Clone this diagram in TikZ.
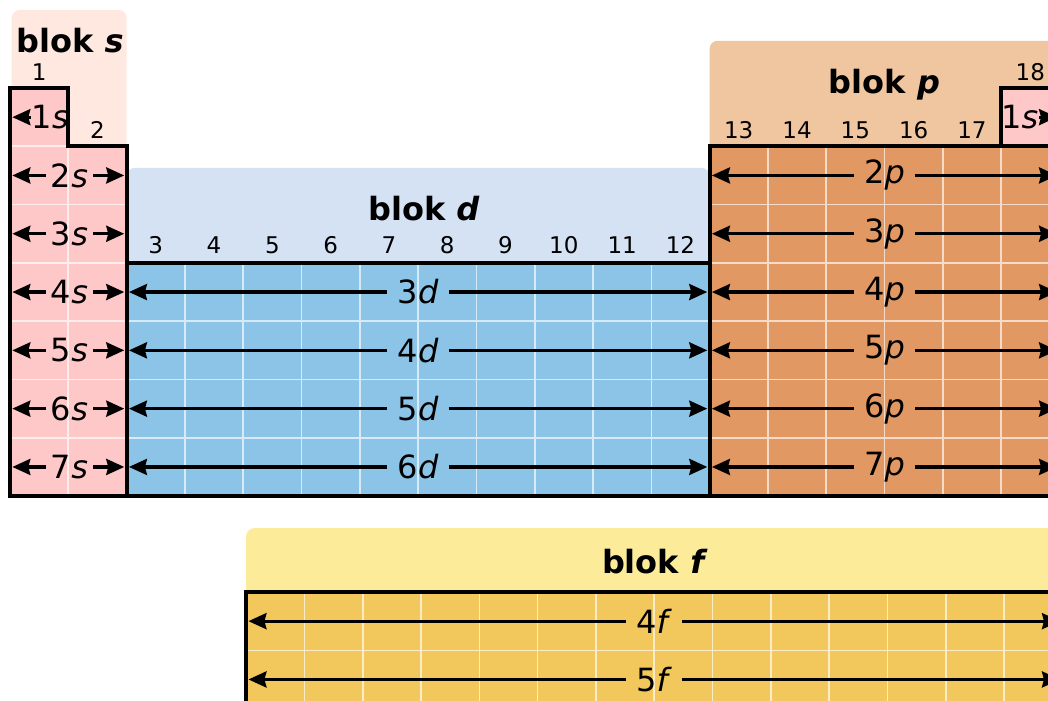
\documentclass[tikz,border=0pt]{standalone}
\usepackage{fontspec}
\setmainfont{DejaVu Sans}
\usetikzlibrary{arrows.meta}

\definecolor{sfill}{RGB}{255,200,200}
\definecolor{shead}{RGB}{255,232,224}
\definecolor{dfill}{RGB}{140,196,232}
\definecolor{dhead}{RGB}{212,226,244}
\definecolor{pfill}{RGB}{226,152,98}
\definecolor{phead}{RGB}{240,198,160}
\definecolor{ffill}{RGB}{242,200,92}
\definecolor{fhead}{RGB}{252,236,154}

\tikzset{
  header/.style={fill=#1, rounded corners=8pt},
  gridline/.style={draw=white!65!#1, line width=1.6pt},
  blockline/.style={line width=4pt, line join=miter},
  blocktitle/.style={font=\fontsize{32}{32}\selectfont\bfseries},
  groupnum/.style={font=\fontsize{23}{23}\selectfont},
  orbit/.style={font=\fontsize{32}{32}\selectfont, inner xsep=10pt, inner ysep=0pt},
  orbarrow/.style={-{Stealth[length=18pt,width=16pt,inset=2pt]}, line width=3.2pt}
}

\begin{document}
\begin{tikzpicture}[x=58.3pt, y=-58.3pt]
    \useasboundingbox (-0.1715,-1.5094) rectangle (17.8045,10.5146);
    \clip (-0.1715,-1.5094) rectangle (17.8045,10.5146);

    \fill[header=shead] (0.03,-1.34) rectangle (2,1.5);
    \fill[header=dhead] (2,1.37) rectangle (12,3.5);
    \fill[header=phead] (12,-0.81) rectangle (18.6,1.5);
    \fill[header=fhead] (4.05,7.55) rectangle (18.6,9);

    \fill[sfill] (0,0) -- (1,0) -- (1,1) -- (2,1) -- (2,7) -- (0,7) -- cycle;
    \fill[dfill] (2,3) rectangle (12,7);
    \fill[pfill] (12,1) rectangle (18,7);
    \fill[sfill] (17,0) rectangle (18,1);
    \fill[ffill] (4.05,8.645) rectangle (18.05,10.645);

    \draw[gridline=sfill] (0,1) -- (1,1) -- (1,7);
    \foreach \r in {2,...,6} \draw[gridline=sfill] (0,\r) -- (2,\r);
    \foreach \c in {3,...,11} \draw[gridline=dfill] (\c,3) -- (\c,7);
    \foreach \r in {4,5,6} \draw[gridline=dfill] (2,\r) -- (12,\r);
    \foreach \c in {13,...,17} \draw[gridline=pfill] (\c,1) -- (\c,7);
    \foreach \r in {2,...,6} \draw[gridline=pfill] (12,\r) -- (18,\r);
    \foreach \c in {1,...,13} \draw[gridline=ffill] (4.05+\c,8.645) -- (4.05+\c,10.645);
    \draw[gridline=ffill] (4.05,9.645) -- (18.05,9.645);

    \draw[blockline] (0,0) -- (1,0) -- (1,1) -- (2,1) -- (2,7) -- (0,7) -- cycle;
    \draw[blockline] (2,3) rectangle (12,7);
    \draw[blockline] (12,1) rectangle (18,7);
    \draw[blockline] (17,0) rectangle (18,1);
    \draw[blockline] (4.05,8.645) rectangle (18.05,10.645);

    \node[blocktitle] (blocks) at (1.03,-0.82) {blok \textit{s}};
    \node[blocktitle] (blockd) at (7.1,2.06) {blok \textit{d}};
    \node[blocktitle] (blockp) at (15,-0.05) {blok \textit{p}};
    \node[blocktitle] (blockf) at (11.06,8.13) {blok \textit{f}};

    \node[groupnum] (g1) at (0.5,-0.27) {1};
    \node[groupnum] (g2) at (1.5,0.72) {2};
    \foreach \g in {3,...,12} \node[groupnum] (g\g) at (\g-0.5,2.69) {\g};
    \foreach \g in {13,...,17} \node[groupnum] (g\g) at (\g-0.5,0.72) {\g};
    \node[groupnum] (g18) at (17.5,-0.27) {18};

    \node[orbit, inner xsep=1pt] (h1s) at (0.69,0.5) {1\textit{s}};
    \coordinate (h1sL) at (0.04,0.5);
    \draw[orbarrow] (h1s) -- (h1sL);
    \node[orbit, inner xsep=1pt] (he1s) at (17.32,0.5) {1\textit{s}};
    \coordinate (he1sR) at (17.96,0.5);
    \draw[orbarrow] (he1s) -- (he1sR);

    \foreach \n in {2,...,7} {
        \node[orbit, inner xsep=5pt] (s\n) at (1.02,\n-0.5) {\n\textit{s}};
        \coordinate (s\n L) at (0.04,\n-0.5);
        \coordinate (s\n R) at (1.96,\n-0.5);
        \draw[orbarrow] (s\n) -- (s\n L);
        \draw[orbarrow] (s\n) -- (s\n R);
        \node[orbit] (p\n) at (15,\n-0.5) {\n\textit{p}};
        \coordinate (p\n L) at (12.04,\n-0.5);
        \coordinate (p\n R) at (17.96,\n-0.5);
        \draw[orbarrow] (p\n) -- (p\n L);
        \draw[orbarrow] (p\n) -- (p\n R);
    }
    \foreach \n/\r in {4/3,5/4,6/5,7/6} {
        \node[orbit] (d\r) at (7,\n-0.5) {\r\textit{d}};
        \coordinate (d\r L) at (2.04,\n-0.5);
        \coordinate (d\r R) at (11.96,\n-0.5);
        \draw[orbarrow] (d\r) -- (d\r L);
        \draw[orbarrow] (d\r) -- (d\r R);
    }
    \foreach \y/\r in {9.145/4,10.145/5} {
        \node[orbit] (f\r) at (11.05,\y) {\r\textit{f}};
        \coordinate (f\r L) at (4.09,\y);
        \coordinate (f\r R) at (18.01,\y);
        \draw[orbarrow] (f\r) -- (f\r L);
        \draw[orbarrow] (f\r) -- (f\r R);
    }
\end{tikzpicture}
\end{document}
